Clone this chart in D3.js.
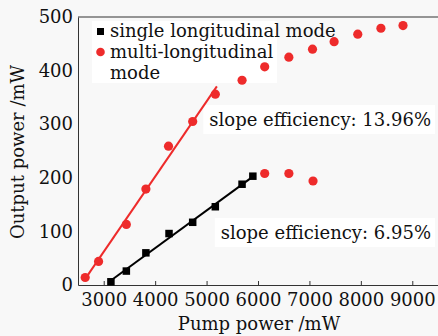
<!DOCTYPE html>
<html>
<head>
<meta charset="utf-8">
<script src="https://cdn.jsdelivr.net/npm/d3@7"></script>
<style>
  body { margin: 0; background: #f8f8f8; }
  svg { display: block; font-family: "DejaVu Serif", serif; }
</style>
</head>
<body>
<div id="chart"></div>
<script>
const width = 438; // Canvas width
const height = 336; // Canvas height
const margin = { top: 17, right: 0, bottom: 51, left: 78 };

// Multi-longitudinal mode, rising branch (fitted)
const multiX = [2640, 2900, 3440, 3820, 4260, 4730, 5170];
const multiY = [14, 44, 113, 179, 259, 305, 356];
// Multi-longitudinal mode, upper points after the fit range
const multiHighX = [5690, 6130, 6600, 7060, 7480, 7940, 8390, 8820];
const multiHighY = [382, 407, 425, 440, 454, 468, 479, 484];
// Multi-longitudinal mode, lower points
const multiLowX = [6130, 6600, 7070];
const multiLowY = [208, 208, 194];
// Single longitudinal mode
const singleX = [3140, 3440, 3820, 4270, 4730, 5170, 5690, 5900];
const singleY = [6, 26, 60, 96, 117, 146, 188, 203];

const xTicks = [3000, 4000, 5000, 6000, 7000, 8000, 9000];
const yTicks = [0, 100, 200, 300, 400, 500];

const red = "#ee2b2b";
const fs = 18;

const xScale = d3.scaleLinear()
    .domain([2500, 9500])
    .range([margin.left, width - margin.right]);

const yScale = d3.scaleLinear()
    .domain([0, 500])
    .range([height - margin.bottom, margin.top]);

const svg = d3.select("#chart")
    .append("svg")
    .attr("width", width)
    .attr("height", height);

// simple least squares fit
function fit(xs, ys) {
    const mx = d3.mean(xs), my = d3.mean(ys);
    let sxy = 0, sxx = 0;
    xs.forEach((x, i) => { sxy += (x - mx) * (ys[i] - my); sxx += (x - mx) * (x - mx); });
    const k = sxy / sxx;
    return x => my + k * (x - mx);
}

// Axes
const xAxis = d3.axisBottom(xScale).tickValues(xTicks).tickFormat(d3.format("d"))
    .tickSizeInner(-4).tickSizeOuter(0).tickPadding(8);
const yAxis = d3.axisLeft(yScale).tickValues(yTicks).tickSize(0).tickPadding(5);

const gx = svg.append("g")
    .attr("transform", `translate(0,${height - margin.bottom})`)
    .call(xAxis);
gx.select(".domain").attr("stroke", "#333");
gx.selectAll(".tick line").attr("stroke", "#333");
gx.selectAll("text").attr("font-size", fs).attr("fill", "#111").attr("font-family", "DejaVu Serif");

const gy = svg.append("g")
    .attr("transform", `translate(${margin.left},0)`)
    .call(yAxis);
gy.select(".domain").attr("stroke", "#333");
gy.selectAll("text").attr("font-size", fs).attr("fill", "#111").attr("font-family", "DejaVu Serif");

// top spine
svg.append("line")
    .attr("x1", margin.left).attr("x2", width)
    .attr("y1", yScale(500)).attr("y2", yScale(500))
    .attr("stroke", "#333");

// Axis titles
svg.append("text")
    .attr("x", 259).attr("y", 330)
    .attr("text-anchor", "middle")
    .attr("font-size", fs)
    .attr("fill", "#111")
    .text("Pump power /mW");

svg.append("text")
    .attr("transform", "translate(24,152) rotate(-90)")
    .attr("text-anchor", "middle")
    .attr("font-size", fs)
    .attr("fill", "#111")
    .text("Output power /mW");

// Legend (behind the data marks)
const lg = svg.append("g");
lg.append("rect")
    .attr("x", 92).attr("y", 21).attr("width", 185).attr("height", 62)
    .attr("fill", "#fff");
lg.append("rect")
    .attr("x", 97).attr("y", 28).attr("width", 7).attr("height", 7)
    .attr("fill", "#000");
lg.append("circle")
    .attr("cx", 100.5).attr("cy", 52).attr("r", 4.3)
    .attr("fill", red);
[["single longitudinal mode", 37], ["multi-longitudinal", 58], ["mode", 79]].forEach(([t, y]) => {
    lg.append("text")
        .attr("x", 110).attr("y", y)
        .attr("font-size", fs)
        .attr("fill", "#111")
        .text(t);
});

// Annotations with white boxes
const notes = [
    { t: "slope efficiency: 13.96%", x: 431, y: 126 },
    { t: "slope efficiency: 6.95%", x: 431, y: 239 }
];
notes.forEach(n => {
    const g = svg.append("g");
    const box = g.append("rect").attr("fill", "#fff");
    const t = g.append("text")
        .attr("x", n.x).attr("y", n.y)
        .attr("text-anchor", "end")
        .attr("font-size", fs)
        .attr("fill", "#111")
        .text(n.t);
    const b = t.node().getBBox();
    box.attr("x", b.x - 6).attr("y", b.y - 4)
        .attr("width", b.width + 10).attr("height", b.height + 8);
});

// Fit lines
const redFit = fit(multiX, multiY);
const blackFit = fit(singleX, singleY);
const redRange = [2630, 5200];
const blackRange = [3120, 5900];

svg.append("line")
    .attr("x1", xScale(redRange[0])).attr("y1", yScale(redFit(redRange[0])))
    .attr("x2", xScale(redRange[1])).attr("y2", yScale(redFit(redRange[1])))
    .attr("stroke", red).attr("stroke-width", 2);

svg.append("line")
    .attr("x1", xScale(blackRange[0])).attr("y1", yScale(blackFit(blackRange[0])))
    .attr("x2", xScale(blackRange[1])).attr("y2", yScale(blackFit(blackRange[1])))
    .attr("stroke", "#000").attr("stroke-width", 2);

// Red circles
const redPts = [
    ...multiX.map((x, i) => [x, multiY[i]]),
    ...multiHighX.map((x, i) => [x, multiHighY[i]]),
    ...multiLowX.map((x, i) => [x, multiLowY[i]])
];
svg.append("g")
    .selectAll("circle")
    .data(redPts)
    .join("circle")
    .attr("cx", d => xScale(d[0]))
    .attr("cy", d => yScale(d[1]))
    .attr("r", 4.6)
    .attr("fill", red);

// Black squares
const sq = 7.5;
svg.append("g")
    .selectAll("rect")
    .data(singleX.map((x, i) => [x, singleY[i]]))
    .join("rect")
    .attr("x", d => xScale(d[0]) - sq / 2)
    .attr("y", d => yScale(d[1]) - sq / 2)
    .attr("width", sq).attr("height", sq)
    .attr("fill", "#000");
</script>
</body>
</html>
